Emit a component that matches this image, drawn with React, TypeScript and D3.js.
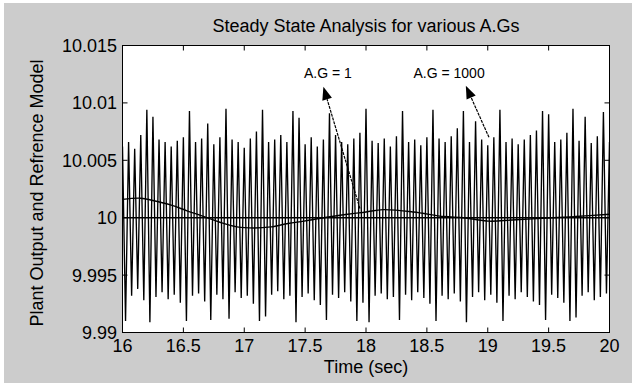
import React from "react";
import * as d3 from "d3";

const W = 632;
const H = 388;

const xTicks = [16, 16.5, 17, 17.5, 18, 18.5, 19, 19.5, 20];
const yTicks = [9.99, 9.995, 10, 10.005, 10.01, 10.015];
const yTickLabels = ["9.99", "9.995", "10", "10.005", "10.01", "10.015"];

const title = "Steady State Analysis for various A.Gs";
const xLabel = "Time (sec)";
const yLabel = "Plant Output and Refrence Model";

// A.G = 1000 plant output: alternating crests and troughs
const sampleStart = 16;
const sampleStep = 0.025;
const crests = [
  10.0062, 10.0066, 10.006, 10.0072, 10.0094, 10.0088, 10.0068, 10.0066, 10.0062, 10.0067,
  10.007, 10.0093, 10.0066, 10.0069, 10.0082, 10.0064, 10.007, 10.0095, 10.0068, 10.0066,
  10.0061, 10.0069, 10.0075, 10.0094, 10.0066, 10.0068, 10.0072, 10.0066, 10.0093, 10.0087,
  10.0064, 10.007, 10.0062, 10.0068, 10.0091, 10.0072, 10.0066, 10.0064, 10.0069, 10.0074,
  10.0095, 10.0067, 10.0065, 10.0069, 10.0062, 10.0071, 10.0093, 10.0066, 10.0068, 10.0063,
  10.007, 10.0094, 10.0069, 10.0066, 10.0071, 10.0078, 10.0093, 10.0066, 10.0084, 10.0068,
  10.0063, 10.007, 10.0094, 10.0066, 10.0069, 10.0064, 10.0068, 10.0072, 10.0076, 10.0093,
  10.009, 10.0066, 10.0068, 10.0074, 10.0095, 10.0067, 10.0088, 10.0065, 10.0071, 10.0092,
  10.0066,
];
const troughs = [
  9.991, 9.9932, 9.9938, 9.9928, 9.9909, 9.9931, 9.9935, 9.9929, 9.9933, 9.9926,
  9.991, 9.9932, 9.9934, 9.9927, 9.9911, 9.9933, 9.9929, 9.9912, 9.9935, 9.993,
  9.9932, 9.9925, 9.991, 9.9914, 9.9933, 9.9936, 9.9929, 9.9932, 9.9909, 9.9931,
  9.9934, 9.9928, 9.9924, 9.9911, 9.9933, 9.993, 9.9935, 9.9927, 9.991, 9.9926,
  9.9909, 9.9932, 9.9934, 9.9929, 9.9931, 9.9911, 9.9933, 9.9928, 9.9935, 9.993,
  9.9925, 9.991, 9.9932, 9.9929, 9.9934, 9.9927, 9.9909, 9.9931, 9.9935, 9.9928,
  9.9933, 9.9926, 9.991, 9.9932, 9.9929, 9.9935, 9.9931, 9.9927, 9.9924, 9.9911,
  9.9933, 9.993, 9.9926, 9.991, 9.9913, 9.9932, 9.9935, 9.9928, 9.9931, 9.9934,
];

// A.G = 1 plant output (slow response)
const slowTimes = [16, 16.15, 16.25, 16.4, 16.53, 16.67, 16.8, 16.94, 17.08, 17.22, 17.36, 17.49, 17.63, 17.85, 18.0, 18.14, 18.39, 18.64, 18.8, 19.01, 19.2, 19.45, 19.72, 20];
const slowValues = [10.0016, 10.0017, 10.0015, 10.0011, 10.0006, 10.0001, 9.9996, 9.9992, 9.9991, 9.9992, 9.9995, 9.9997, 9.99995, 10.0003, 10.0005, 10.0007, 10.0005, 10.0001, 10.0, 9.9997, 9.9998, 9.99995, 10.0001, 10.0003];

// Reference model
const refTimes = [16, 20];
const refValues = [10, 10];

// Annotations
const noteLabels = ["A.G = 1", "A.G = 1000"];
const noteTextT = [17.49, 18.39];
const noteTextV = [10.0122, 10.0122];
const noteTipT = [17.65, 18.82];
const noteTipV = [10.0114, 10.0115];
const noteTailT = [17.95, 19.01];
const noteTailV = [10.0008, 10.007];

const FONT = "'Liberation Sans', Arial, Helvetica, sans-serif";

export default function App() {
  const left = 122.5;
  const right = 609.5;
  const top = 45.5;
  const bottom = 332.5;

  const x = d3.scaleLinear().domain([16, 20]).range([left, right]);
  const y = d3.scaleLinear().domain([9.99, 10.015]).range([bottom, top]);

  const osc: [number, number][] = [];
  for (let i = 0; i < crests.length; i++) {
    osc.push([sampleStart + 2 * i * sampleStep, crests[i]]);
    if (i < troughs.length) osc.push([sampleStart + (2 * i + 1) * sampleStep, troughs[i]]);
  }
  const straight = d3
    .line<[number, number]>()
    .x((d) => x(d[0]))
    .y((d) => y(d[1]));
  const smooth = d3
    .line<[number, number]>()
    .x((d) => x(d[0]))
    .y((d) => y(d[1]))
    .curve(d3.curveCatmullRom.alpha(0.5));

  const slow = slowTimes.map((t, i) => [t, slowValues[i]] as [number, number]);
  const ref = refTimes.map((t, i) => [t, refValues[i]] as [number, number]);

  const tickLen = 5;

  return (
    <svg
      width={W}
      height={H}
      style={{ position: "absolute", left: 0, top: 0, background: "#ffffff" }}
      fontFamily={FONT}
    >
      <defs>
        <clipPath id="plotclip">
          <rect x={left} y={top} width={right - left} height={bottom - top} />
        </clipPath>
      </defs>
      <rect x={4} y={3} width={W - 4} height={380} fill="#cccccc" />
      <rect x={left} y={top} width={right - left} height={bottom - top} fill="#ffffff" />

      <g clipPath="url(#plotclip)">
        <path d={straight(osc) || ""} fill="none" stroke="#000" strokeWidth={1.35} />
        <path d={straight(ref) || ""} fill="none" stroke="#000" strokeWidth={1.6} />
        <path d={smooth(slow) || ""} fill="none" stroke="#000" strokeWidth={1.4} />
      </g>

      <rect x={left} y={top} width={right - left} height={bottom - top} fill="none" stroke="#000" strokeWidth={1} />

      {xTicks.map((t) => (
        <g key={"xt" + t}>
          <line x1={x(t)} x2={x(t)} y1={bottom} y2={bottom - tickLen} stroke="#000" />
          <line x1={x(t)} x2={x(t)} y1={top} y2={top + tickLen} stroke="#000" />
          <text x={x(t)} y={352} fontSize={18} textAnchor="middle" fill="#000">
            {String(t)}
          </text>
        </g>
      ))}
      {yTicks.map((v, i) => (
        <g key={"yt" + v}>
          <line x1={left} x2={left + tickLen} y1={y(v)} y2={y(v)} stroke="#000" />
          <line x1={right} x2={right - tickLen} y1={y(v)} y2={y(v)} stroke="#000" />
          <text x={117} y={y(v) + 6.5} fontSize={18} textAnchor="end" fill="#000">
            {yTickLabels[i]}
          </text>
        </g>
      ))}

      <text x={(left + right) / 2} y={31.5} fontSize={18} textAnchor="middle" fill="#000">
        {title}
      </text>
      <text x={(left + right) / 2} y={373} fontSize={18} textAnchor="middle" fill="#000">
        {xLabel}
      </text>
      <text
        transform={`translate(43, ${(top + bottom) / 2 + 4}) rotate(-90)`}
        fontSize={18}
        textAnchor="middle"
        fill="#000"
      >
        {yLabel}
      </text>

      {noteLabels.map((lab, i) => {
        const tx = x(noteTipT[i]);
        const ty = y(noteTipV[i]);
        const bx = x(noteTailT[i]);
        const by = y(noteTailV[i]);
        const ang = Math.atan2(ty - by, tx - bx);
        const L = 13;
        const Wd = 5;
        const baseX = tx - L * Math.cos(ang);
        const baseY = ty - L * Math.sin(ang);
        const px = -Math.sin(ang) * Wd;
        const py = Math.cos(ang) * Wd;
        const head = `M${tx},${ty}L${baseX + px},${baseY + py}L${baseX - px},${baseY - py}Z`;
        return (
          <g key={lab}>
            <text x={x(noteTextT[i])} y={y(noteTextV[i])} fontSize={14} fill="#000">
              {lab}
            </text>
            <line x1={bx} y1={by} x2={baseX} y2={baseY} stroke="#000" strokeWidth={1.2} strokeDasharray="3,1" />
            <path d={head} fill="#000" />
          </g>
        );
      })}
    </svg>
  );
}
